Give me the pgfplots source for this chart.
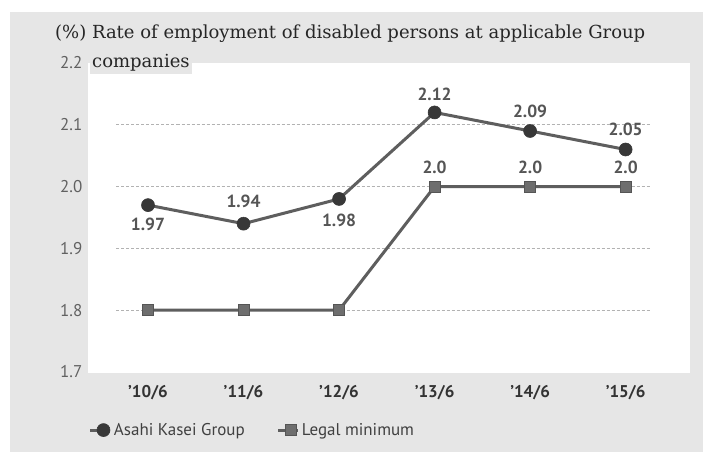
\documentclass[border=0pt]{standalone}
\usepackage{pgfplots}
\pgfplotsset{compat=1.18}
\usepackage{pgfplotstable}
\usepackage{fontspec}
\setmainfont{DejaVu Serif}
\newfontfamily\ptsans{PT Sans}

\definecolor{bggray}{HTML}{E6E6E6}
\definecolor{linegray}{HTML}{5E5E5E}
\definecolor{dotgray}{HTML}{383838}
\definecolor{sqgray}{HTML}{6E6E6E}
\definecolor{labgray}{HTML}{555555}

% Asahi Kasei Group: x, value, label, label offset (pt)
\pgfplotstableread{
x y lab dy
0 1.97 1.97 -19
1 1.94 1.94 22
2 1.98 1.98 -21
3 2.12 2.12 18
4 2.09 2.09 20
5 2.06 2.05 20
}\asahi

% Legal minimum
\pgfplotstableread{
x y
0 1.8
1 1.8
2 1.8
3 2.0
4 2.0
5 2.0
}\legal

\pgfplotstableread{
x y lab dy
3 2.0 2.0 19
4 2.0 2.0 19
5 2.0 2.0 19
}\legallab

\begin{document}
\begin{tikzpicture}[x=1pt,y=1pt]
\path[use as bounding box] (0,0) rectangle (705,452);
\fill[white] (0,0) rectangle (705,452);
\fill[bggray] (10,0) rectangle (703,440);
\fill[white] (88,79) rectangle (690,389);

\begin{axis}[
    at={(116.5pt,80pt)}, anchor=south west,
    scale only axis,
    width=533pt, height=309pt,
    xmin=-0.33, xmax=5.25,
    ymin=1.7, ymax=2.2,
    clip=false,
    axis line style={draw=none},
    tick style={draw=none},
    xtick={0,...,5},
    xticklabels={’10/6,’11/6,’12/6,’13/6,’14/6,’15/6},
    xticklabel style={anchor=base, inner sep=0pt, yshift=-26pt,
        font=\ptsans\bfseries\fontsize{17}{17}\selectfont, text=black!80},
    ytick={1.8,1.9,2.0,2.1},
    yticklabels={1.8,1.9,2.0,2.1},
    extra y ticks={1.7,2.2},
    extra y tick labels={1.7,2.2},
    extra y tick style={grid=none},
    yticklabel style={anchor=east, inner sep=0pt, xshift=-34pt,
        font=\ptsans\fontsize{17}{17}\selectfont, text=black!62},
    ymajorgrids,
    grid style={densely dashed, black!30, line width=0.6pt},
    legend style={at={(-0.052,-0.188)}, anchor=west, draw=none, fill=none,
        legend columns=2, inner sep=0pt,
        font=\ptsans\fontsize{17}{17}\selectfont, text=black!75,
        /tikz/every even column/.append style={column sep=30pt}},
    legend cell align=left,
    legend image code/.code={
        \draw[mark repeat=2, mark phase=2, #1]
        plot coordinates {(0pt,0pt) (13pt,0pt) (20pt,0pt)};
    },
]

\addplot[linegray, line width=3pt, mark=*, mark size=6.5pt,
    mark options={fill=dotgray, draw=dotgray, line width=0.6pt}]
    table[x=x, y=y] {\asahi};
\addlegendentry{Asahi Kasei Group}

\addplot[linegray, line width=3pt, mark=square*, mark size=5.5pt,
    mark options={fill=sqgray, draw=labgray, line width=0.8pt}]
    table[x=x, y=y] {\legal};
\addlegendentry{Legal minimum}

% data labels
\addplot[draw=none, forget plot, nodes near coords,
    point meta=explicit symbolic,
    visualization depends on={\thisrow{dy} \as \dy},
    every node near coord/.append style={anchor=center, yshift=\dy,
        font=\ptsans\bfseries\fontsize{17.5}{17.5}\selectfont, text=labgray}]
    table[x=x, y=y, meta=lab] {\asahi};

\addplot[draw=none, forget plot, nodes near coords,
    point meta=explicit symbolic,
    visualization depends on={\thisrow{dy} \as \dy},
    every node near coord/.append style={anchor=center, yshift=\dy,
        font=\ptsans\bfseries\fontsize{17.5}{17.5}\selectfont, text=labgray}]
    table[x=x, y=y, meta=lab] {\legallab};
\end{axis}

\node[anchor=base west, inner sep=0pt, text=black!85,
    font=\fontsize{18}{18}\selectfont] at (55,413) {(\%) Rate of employment of disabled persons at applicable Group};
\node[anchor=base west, inner sep=2pt, fill=bggray, text=black!85,
    font=\fontsize{18}{18}\selectfont] at (90,384) {companies};
\end{tikzpicture}
\end{document}
